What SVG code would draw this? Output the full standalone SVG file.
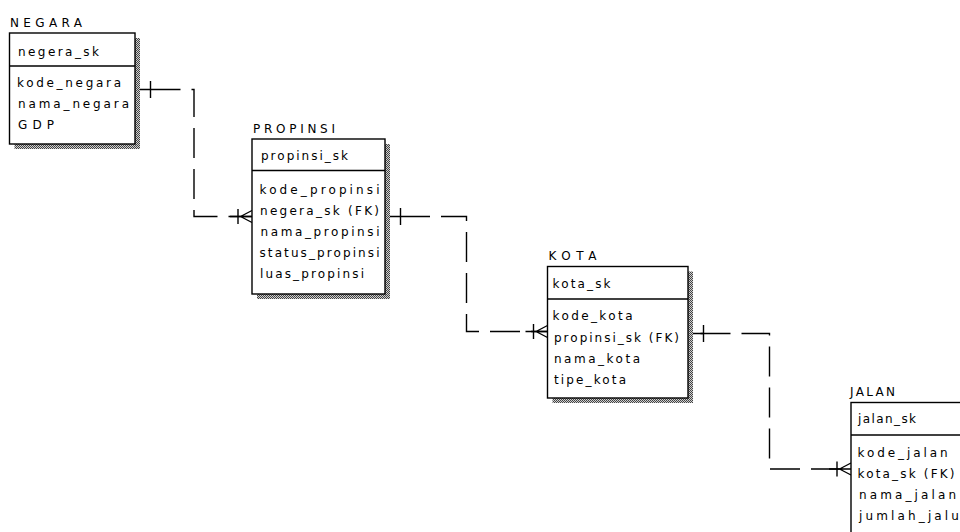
<svg xmlns="http://www.w3.org/2000/svg" xmlns:xlink="http://www.w3.org/1999/xlink" width="960" height="532" viewBox="0 0 960 532">
  <style>
    text { font-family: "DejaVu Sans", Verdana, sans-serif; font-size: 12px; fill: #000; }
    .box { fill: #fff; stroke: #000; stroke-width: 1.4; }
    .shadow { fill: url(#dither); stroke: none; }
    .div { stroke: #000; stroke-width: 1.4; }
    .rel { fill: none; stroke: #000; stroke-width: 1.4; stroke-dasharray: 30 11; }
    .mark { fill: none; stroke: #000; stroke-width: 1.4; }
  </style>
  <defs>
    <!-- 1px checker used for the drop shadows -->
    <pattern id="dither" width="2" height="2" patternUnits="userSpaceOnUse">
      <rect width="2" height="2" fill="#d0d0d0"/>
      <rect width="1" height="1" fill="#444"/>
      <rect x="1" y="1" width="1" height="1" fill="#444"/>
    </pattern>
    <!-- parent side: exactly one -->
    <g id="oneEnd" class="mark">
      <path d="M0,0 H16 M15.5,-8.5 V8.5"/>
    </g>
    <!-- child side: one or many (crow's foot) -->
    <g id="manyEnd" class="mark">
      <path d="M-22,0 H0 M-11.5,0 L0,-6 M-11.5,0 L0,6 M-14,-7.5 V7.5"/>
    </g>
  </defs>

  <rect width="960" height="532" fill="#fff"/>

  <!-- relationships -->
  <g id="connectors">
    <g id="rel-negara-propinsi">
      <use xlink:href="#oneEnd" x="135" y="89.5"/>
      <path class="rel" d="M150.5,89.5 H194 V216.5 H252"/>
      <use xlink:href="#manyEnd" x="252" y="216.5"/>
    </g>
    <g id="rel-propinsi-kota">
      <use xlink:href="#oneEnd" x="385" y="216.5"/>
      <path class="rel" d="M400,216.5 H466.5 V331.5 H547.5"/>
      <use xlink:href="#manyEnd" x="547.5" y="331.5"/>
    </g>
    <g id="rel-kota-jalan">
      <use xlink:href="#oneEnd" x="688" y="333.5"/>
      <path class="rel" d="M700.5,333.5 H769.5 V469 H851"/>
      <use xlink:href="#manyEnd" x="851" y="469"/>
    </g>
  </g>

  <!-- entity NEGARA -->
  <g id="negara">
    <text x="10" y="27" textLength="72" lengthAdjust="spacing">NEGARA</text>
    <rect class="shadow" x="14.5" y="38" width="125.5" height="111"/>
    <rect class="box" x="9.5" y="33" width="125.5" height="111"/>
    <line class="div" x1="9.5" y1="66" x2="135" y2="66"/>
    <text x="18" y="55.5" textLength="81" lengthAdjust="spacing">negera_sk</text>
    <text x="17" y="87" textLength="104" lengthAdjust="spacing">kode_negara</text>
    <text x="18" y="108" textLength="111" lengthAdjust="spacing">nama_negara</text>
    <text x="18" y="129" textLength="36" lengthAdjust="spacing">GDP</text>
  </g>

  <!-- entity PROPINSI -->
  <g id="propinsi">
    <text x="253" y="132.5" textLength="82" lengthAdjust="spacing">PROPINSI</text>
    <rect class="shadow" x="257" y="144" width="133" height="155"/>
    <rect class="box" x="252" y="139" width="133" height="155"/>
    <line class="div" x1="252" y1="170.5" x2="385" y2="170.5"/>
    <text x="261" y="160" textLength="87" lengthAdjust="spacing">propinsi_sk</text>
    <text x="259.5" y="193.5" textLength="120" lengthAdjust="spacing">kode_propinsi</text>
    <text x="260" y="215" textLength="119" lengthAdjust="spacing">negera_sk (FK)</text>
    <text x="260.5" y="236" textLength="119" lengthAdjust="spacing">nama_propinsi</text>
    <text x="259.5" y="257" textLength="120" lengthAdjust="spacing">status_propinsi</text>
    <text x="260" y="278" textLength="104" lengthAdjust="spacing">luas_propinsi</text>
  </g>

  <!-- entity KOTA -->
  <g id="kota">
    <text x="548.5" y="260" textLength="48" lengthAdjust="spacing">KOTA</text>
    <rect class="shadow" x="552.5" y="271.5" width="140.5" height="131.5"/>
    <rect class="box" x="547.5" y="266.5" width="140.5" height="131.5"/>
    <line class="div" x1="547.5" y1="299" x2="688" y2="299"/>
    <text x="552.5" y="287.5" textLength="58" lengthAdjust="spacing">kota_sk</text>
    <text x="552.5" y="320" textLength="80" lengthAdjust="spacing">kode_kota</text>
    <text x="554" y="341.5" textLength="125" lengthAdjust="spacing">propinsi_sk (FK)</text>
    <text x="554" y="362.5" textLength="86" lengthAdjust="spacing">nama_kota</text>
    <text x="554" y="384" textLength="72" lengthAdjust="spacing">tipe_kota</text>
  </g>

  <!-- entity JALAN (runs past the right and bottom edges) -->
  <g id="jalan">
    <text x="850" y="396" textLength="45" lengthAdjust="spacing">JALAN</text>
    <rect class="box" x="851" y="402.5" width="160" height="160"/>
    <line class="div" x1="851" y1="435" x2="1011" y2="435"/>
    <text x="858" y="423" textLength="58" lengthAdjust="spacing">jalan_sk</text>
    <text x="857.5" y="456.5" textLength="90" lengthAdjust="spacing">kode_jalan</text>
    <text x="857.5" y="478" textLength="97" lengthAdjust="spacing">kota_sk (FK)</text>
    <text x="859" y="499" textLength="97" lengthAdjust="spacing">nama_jalan</text>
    <text x="859" y="520" textLength="108" lengthAdjust="spacing">jumlah_jalur</text>
  </g>
</svg>
